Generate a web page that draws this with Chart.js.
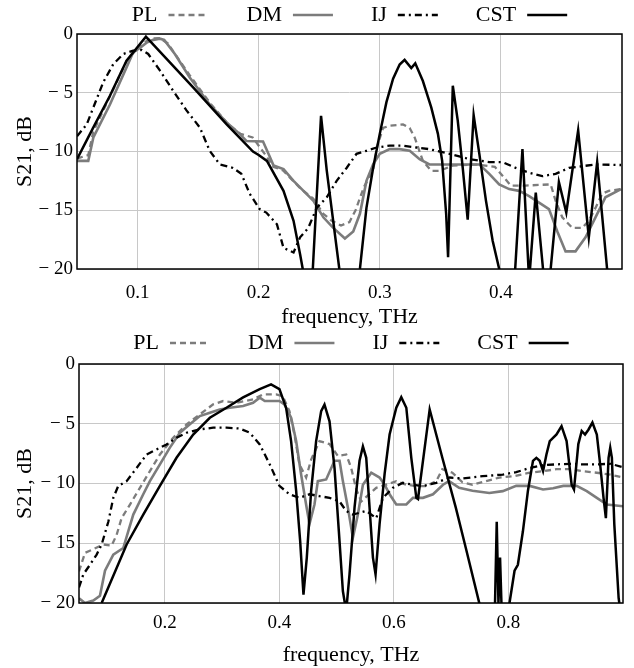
<!DOCTYPE html>
<html>
<head>
<meta charset="utf-8">
<script src="https://cdn.jsdelivr.net/npm/chart.js@4.4.1/dist/chart.umd.min.js"></script>
<style>
html, body { margin: 0; padding: 0; background: #fff; width: 634px; height: 668px; overflow: hidden; }
#chartHaut { position: absolute; left: 0; top: -34px; }
#chartBas { position: absolute; left: 0; top: 294px; }
</style>
</head>
<body>
<canvas id="chartHaut" width="634" height="364"></canvas>
<canvas id="chartBas" width="634" height="374"></canvas>
<script>
// ---- top chart (0.05 - 0.5 THz) ----
var topTicks = [0.1, 0.2, 0.3, 0.4];

var topFreqPL = [0.05, 0.0593, 0.0635, 0.0772, 0.0909, 0.1, 0.11, 0.118, 0.125, 0.143, 0.16, 0.175, 0.185, 0.195, 0.205, 0.212, 0.22, 0.235, 0.245, 0.2534, 0.2603, 0.268, 0.275, 0.28, 0.287, 0.2945, 0.298, 0.3027, 0.3082, 0.3192, 0.3247, 0.3288, 0.3356, 0.3425, 0.3493, 0.36, 0.38, 0.395, 0.4082, 0.42, 0.4411, 0.4452, 0.4507, 0.4589, 0.4671, 0.4726, 0.4781, 0.4836, 0.489, 0.4992];
var topPL = [-10.6, -10.3, -8.3, -5.3, -2.3, -1.2, -0.4, -0.35, -0.8, -3.5, -5.9, -7.7, -8.5, -8.8, -10.2, -11.3, -11.6, -13.2, -14.0, -15.3, -15.9, -16.3, -16.0, -15.0, -13.0, -11.6, -9.5, -8.0, -7.8, -7.7, -8.0, -8.8, -10.8, -11.65, -11.65, -11.2, -11.1, -11.3, -12.9, -12.9, -12.8, -14.2, -15.6, -16.5, -16.5, -15.9, -14.8, -13.6, -13.35, -13.2];

var topFreqDM = [0.05, 0.0593, 0.0635, 0.0772, 0.0909, 0.0964, 0.103, 0.108, 0.113, 0.1184, 0.122, 0.1308, 0.1431, 0.1596, 0.1733, 0.1843, 0.1898, 0.2036, 0.209, 0.2123, 0.2205, 0.2288, 0.237, 0.2452, 0.2534, 0.2616, 0.2712, 0.2781, 0.2836, 0.289, 0.2945, 0.3, 0.3082, 0.3164, 0.3247, 0.3329, 0.341, 0.3493, 0.3822, 0.3904, 0.3986, 0.4068, 0.4151, 0.4233, 0.4315, 0.4397, 0.4466, 0.4534, 0.4616, 0.4699, 0.4781, 0.4863, 0.4992];
var topDM = [-10.8, -10.8, -8.8, -6.0, -2.84, -1.56, -1.1, -0.7, -0.5, -0.4, -0.5, -1.7, -3.7, -6.0, -7.5, -8.5, -9.1, -9.15, -10.4, -11.2, -11.5, -12.5, -13.35, -14.2, -15.6, -16.5, -17.4, -16.8, -15.3, -12.5, -11.1, -10.2, -9.8, -9.8, -9.94, -10.65, -11.1, -11.1, -11.1, -11.9, -12.8, -13.2, -13.35, -13.8, -14.35, -14.9, -16.8, -18.5, -18.5, -17.3, -15.6, -13.9, -13.2];

var topFreqIJ = [0.05, 0.058, 0.0635, 0.0717, 0.08, 0.0882, 0.0964, 0.1033, 0.1088, 0.1184, 0.1294, 0.1404, 0.1514, 0.1596, 0.1679, 0.1788, 0.1857, 0.1926, 0.2008, 0.2063, 0.2151, 0.2205, 0.2288, 0.2342, 0.241, 0.2479, 0.2562, 0.2644, 0.2726, 0.2808, 0.289, 0.2973, 0.3082, 0.3192, 0.3301, 0.341, 0.3575, 0.374, 0.3904, 0.4014, 0.4123, 0.4233, 0.4342, 0.4452, 0.4562, 0.4671, 0.4781, 0.4992];
var topIJ = [-8.7, -7.7, -6.25, -4.1, -2.56, -1.7, -1.42, -1.36, -1.7, -3.1, -4.83, -6.5, -7.95, -9.94, -11.1, -11.4, -11.9, -13.6, -14.9, -15.2, -16.2, -18.2, -18.6, -17.3, -16.5, -14.8, -13.9, -12.5, -11.4, -10.2, -9.94, -9.66, -9.5, -9.5, -9.66, -9.8, -10.2, -10.65, -10.9, -10.9, -11.4, -11.8, -12.1, -11.9, -11.4, -11.25, -11.1, -11.15];

var topFreqCST = [0.05, 0.0635, 0.0772, 0.0909, 0.1, 0.1069, 0.1459, 0.1734, 0.1953, 0.2, 0.2068, 0.2205, 0.2288, 0.2342, 0.2364, 0.240, 0.2447, 0.2515, 0.2562, 0.2666, 0.275, 0.2836, 0.289, 0.2945, 0.3, 0.3055, 0.311, 0.3164, 0.3205, 0.326, 0.3293, 0.3356, 0.3425, 0.348, 0.3515, 0.3548, 0.3564, 0.3603, 0.3644, 0.3685, 0.3726, 0.3775, 0.3822, 0.3877, 0.3932, 0.3986, 0.405, 0.4118, 0.4178, 0.4233, 0.4288, 0.4348, 0.438, 0.4411, 0.4479, 0.454, 0.4638, 0.4726, 0.4795, 0.4877, 0.495];
var topCST = [-10.65, -7.95, -5.26, -2.27, -1.1, -0.23, -4.55, -7.67, -10.0, -10.3, -10.8, -13.35, -15.9, -18.75, -20, -24, -20, -6.96, -11.6, -20, -24, -20, -14.8, -11.4, -8.5, -5.8, -3.8, -2.6, -2.2, -2.9, -2.5, -4.0, -6.25, -8.5, -10.8, -15.3, -19.0, -4.4, -7.4, -11.4, -15.8, -6.9, -10.2, -14.2, -17.6, -20, -24, -20, -9.8, -21, -13.5, -20, -24, -20, -12.6, -15.2, -8.2, -17.3, -10.9, -20, -24];

// ---- bottom chart (0.05 - 1 THz) ----
var basTicks = [0.2, 0.4, 0.6, 0.8];

var basFreqPL = [0.05, 0.0605, 0.075, 0.0925, 0.107, 0.1157, 0.1244, 0.139, 0.1564, 0.1738, 0.1913, 0.2145, 0.2378, 0.261, 0.2843, 0.3017, 0.325, 0.354, 0.3715, 0.3831, 0.3942, 0.4058, 0.4175, 0.4262, 0.435, 0.4466, 0.4554, 0.47, 0.4875, 0.502, 0.5166, 0.5254, 0.5342, 0.5429, 0.5691, 0.5866, 0.6041, 0.6216, 0.6391, 0.6566, 0.674, 0.6845, 0.702, 0.7196, 0.7372, 0.7607, 0.7842, 0.8076, 0.837, 0.8604, 0.8839, 0.9073, 0.9308, 0.9543, 0.9777, 1.0];
var basPL = [-17.35, -15.8, -15.5, -15.1, -15.2, -14.3, -12.9, -11.76, -10.36, -8.97, -7.57, -6.17, -5.05, -4.22, -3.38, -3.1, -3.24, -2.96, -2.54, -2.54, -2.54, -2.7, -3.94, -5.9, -8.4, -9.5, -8.0, -6.45, -6.7, -7.7, -7.57, -8.7, -10.5, -11.5, -10.36, -10.1, -9.8, -10.1, -10.22, -10.22, -9.8, -8.8, -9.1, -9.9, -10.1, -9.8, -9.5, -9.4, -9.1, -8.97, -8.8, -8.8, -8.97, -9.1, -9.25, -9.5];

var basFreqDM = [0.05, 0.0605, 0.075, 0.0866, 0.0954, 0.1099, 0.1273, 0.136, 0.1448, 0.1622, 0.1738, 0.1913, 0.2087, 0.2262, 0.2436, 0.261, 0.2785, 0.2959, 0.3133, 0.3366, 0.354, 0.3656, 0.3744, 0.3854, 0.4, 0.4087, 0.4204, 0.4292, 0.4379, 0.4466, 0.4525, 0.4612, 0.4671, 0.4816, 0.4962, 0.505, 0.5108, 0.5195, 0.5283, 0.537, 0.5458, 0.5604, 0.5749, 0.5837, 0.5924, 0.6041, 0.6216, 0.6332, 0.6507, 0.6682, 0.6857, 0.6962, 0.7138, 0.7372, 0.7666, 0.79, 0.8135, 0.837, 0.8604, 0.878, 0.8956, 0.9191, 0.9367, 0.9543, 0.9718, 1.0];
var basDM = [-19.6, -20, -19.8, -19.4, -17.3, -15.95, -15.4, -14.0, -12.6, -10.9, -9.8, -8.4, -7.0, -5.75, -5.05, -4.36, -4.08, -3.8, -3.66, -3.52, -3.24, -2.82, -3.1, -3.1, -3.1, -3.38, -4.5, -6.45, -9.25, -11.76, -13.4, -11.76, -9.8, -9.66, -8.1, -8.1, -9.8, -12.0, -14.55, -12.6, -10.1, -9.1, -9.5, -10.1, -10.9, -11.76, -11.76, -11.2, -11.2, -10.9, -10.1, -9.8, -10.36, -10.6, -10.8, -10.64, -10.2, -10.2, -10.5, -10.4, -10.2, -10.2, -10.64, -11.2, -11.76, -11.9];

var basFreqIJ = [0.05, 0.0576, 0.0692, 0.0808, 0.0896, 0.1012, 0.1099, 0.1186, 0.1332, 0.1506, 0.168, 0.1855, 0.2029, 0.2203, 0.2378, 0.261, 0.2843, 0.3075, 0.3308, 0.3482, 0.3656, 0.3831, 0.4, 0.4175, 0.435, 0.4525, 0.47, 0.4875, 0.505, 0.5166, 0.5283, 0.5516, 0.5691, 0.5808, 0.5983, 0.6157, 0.6332, 0.6507, 0.674, 0.6974, 0.7196, 0.7548, 0.79, 0.8135, 0.837, 0.8604, 0.8839, 0.9073, 0.9308, 0.9543, 0.9777, 1.0];
var basIJ = [-18.7, -17.6, -16.8, -15.95, -15.1, -13.2, -11.2, -10.2, -9.8, -8.7, -7.57, -7.15, -6.73, -6.17, -5.75, -5.47, -5.33, -5.33, -5.4, -5.75, -6.73, -8.4, -10.2, -10.9, -11.2, -10.9, -11.06, -11.2, -11.5, -12.3, -12.6, -12.3, -12.9, -11.2, -10.36, -9.94, -10.1, -10.22, -9.94, -9.5, -9.58, -9.39, -9.25, -9.05, -8.7, -8.46, -8.4, -8.35, -8.4, -8.4, -8.35, -8.63];

var basFreqCST = [0.0896, 0.1332, 0.1622, 0.1913, 0.2203, 0.2494, 0.2785, 0.3075, 0.3366, 0.3656, 0.3854, 0.4, 0.4117, 0.4204, 0.4292, 0.4362, 0.442, 0.4478, 0.4554, 0.4641, 0.4729, 0.4787, 0.4875, 0.4962, 0.5038, 0.5108, 0.5166, 0.5224, 0.5312, 0.5399, 0.5458, 0.5516, 0.5574, 0.5633, 0.5679, 0.5749, 0.5837, 0.5924, 0.6041, 0.6128, 0.6216, 0.6303, 0.6391, 0.642, 0.6624, 0.6845, 0.7079, 0.7255, 0.749, 0.763, 0.7765, 0.7795, 0.7825, 0.7853, 0.7877, 0.795, 0.8018, 0.8106, 0.8164, 0.8252, 0.834, 0.8428, 0.8487, 0.8545, 0.8604, 0.8663, 0.8721, 0.8839, 0.8927, 0.9015, 0.9103, 0.9144, 0.922, 0.9279, 0.9337, 0.9396, 0.9466, 0.9543, 0.9601, 0.966, 0.9701, 0.9748, 0.9777, 0.9806, 0.9848, 0.9924, 0.9965, 1.0];
var basCST = [-20, -15.1, -12.6, -10.2, -7.85, -5.9, -4.5, -3.66, -2.8, -2.1, -1.7, -2.1, -3.66, -6.45, -10.6, -14.8, -19.3, -16.2, -10.6, -6.45, -3.94, -3.4, -4.8, -8.7, -14.0, -19.0, -20.7, -17.6, -12.0, -8.1, -6.9, -7.85, -12.0, -16.2, -17.6, -13.4, -9.2, -5.9, -3.66, -2.77, -3.66, -7.85, -11.2, -11.3, -3.8, -7.85, -12.0, -15.4, -20, -24, -20, -13.2, -20, -16.2, -20, -24, -20, -17.3, -16.8, -14.0, -10.6, -8.1, -7.85, -8.1, -8.97, -7.57, -6.45, -5.9, -5.2, -6.45, -10.1, -10.5, -6.7, -5.6, -5.9, -5.5, -4.9, -5.9, -8.4, -11.2, -12.9, -7.85, -7.0, -7.85, -13.4, -19.6, -21, -24];

var police = 'Liberation Serif';
var gris = '#7c7c7c';

function points(xs, ys) {
    return xs.map(function (x, i) { return { x: x, y: ys[i] }; });
}

// box around the plot area
var cadre = {
    id: 'cadre',
    afterDatasetsDraw: function (chart) {
        var a = chart.chartArea;
        var ctx = chart.ctx;
        ctx.save();
        ctx.strokeStyle = '#000';
        ctx.lineWidth = 1.5;
        ctx.strokeRect(a.left, a.top, a.right - a.left, a.bottom - a.top);
        ctx.restore();
    }
};

// legend samples: take dash and width from the dataset line, not from the point
function etiquettes(chart) {
    var items = Chart.defaults.plugins.legend.labels.generateLabels(chart);
    items.forEach(function (it) {
        var ds = chart.data.datasets[it.datasetIndex];
        it.lineDash = ds.borderDash || [];
        it.lineWidth = ds.borderWidth;
        it.strokeStyle = ds.borderColor;
        it.pointStyle = 'line';
    });
    return items;
}

function dessiner(id, series, xMax, xTicks, largeurY, hauteurX, margeDroite, padTicksX, hauteurLegende) {
    // CST first so it is drawn on top; rtl legend puts it at the right end
    var datasets = [
        { label: 'CST', data: points(series.fCST, series.CST), borderColor: '#000', borderWidth: 2.5 },
        { label: 'IJ', data: points(series.fIJ, series.IJ), borderColor: '#000', borderWidth: 2.3, borderDash: [7, 4, 2, 4] },
        { label: 'DM', data: points(series.fDM, series.DM), borderColor: gris, borderWidth: 2.6 },
        { label: 'PL', data: points(series.fPL, series.PL), borderColor: gris, borderWidth: 2.3, borderDash: [6, 4] }
    ];
    datasets.forEach(function (d) {
        d.pointRadius = 0;
        d.fill = false;
        d.tension = 0;
        d.clip = 0;
        d.backgroundColor = d.borderColor;
    });

    return new Chart(document.getElementById(id), {
        type: 'line',
        data: { datasets: datasets },
        plugins: [cadre],
        options: {
            responsive: false,
            animation: false,
            devicePixelRatio: 1,
            layout: { padding: { left: 0, right: margeDroite, top: 0, bottom: 0 } },
            plugins: {
                tooltip: { enabled: false },
                legend: {
                    position: 'top',
                    fullSize: false,
                    rtl: true,
                    maxHeight: hauteurLegende,
                    labels: {
                        usePointStyle: true,
                        pointStyle: 'line',
                        pointStyleWidth: 40,
                        padding: 38,
                        color: '#000',
                        font: { family: police, size: 22 },
                        generateLabels: etiquettes
                    }
                }
            },
            scales: {
                x: {
                    type: 'linear',
                    min: 0.05,
                    max: xMax,
                    afterBuildTicks: function (scale) {
                        scale.ticks = xTicks.map(function (v) { return { value: v }; });
                    },
                    afterFit: function (scale) { scale.height = hauteurX; },
                    grid: { color: '#c8c8c8', lineWidth: 1, drawTicks: false },
                    border: { display: false },
                    ticks: {
                        color: '#000',
                        padding: padTicksX,
                        maxRotation: 0,
                        autoSkip: false,
                        font: { family: police, size: 19 },
                        callback: function (v) { return v.toFixed(1); }
                    },
                    title: {
                        display: true,
                        text: 'frequency, THz',
                        color: '#000',
                        padding: 0,
                        font: { family: police, size: 22 }
                    }
                },
                y: {
                    min: -20,
                    max: 0,
                    afterFit: function (scale) { scale.width = largeurY; },
                    grid: { color: '#c8c8c8', lineWidth: 1, drawTicks: false },
                    border: { display: false },
                    ticks: {
                        stepSize: 5,
                        color: '#000',
                        padding: 4,
                        font: { family: police, size: 19 },
                        callback: function (v) { return v === 0 ? '0' : '\u2212 ' + Math.abs(v); }
                    },
                    title: {
                        display: true,
                        text: 'S21, dB',
                        color: '#000',
                        padding: { top: 12, bottom: 0 },
                        font: { family: police, size: 22 }
                    }
                }
            }
        }
    });
}

dessiner('chartHaut', {
    fPL: topFreqPL, PL: topPL, fDM: topFreqDM, DM: topDM,
    fIJ: topFreqIJ, IJ: topIJ, fCST: topFreqCST, CST: topCST
}, 0.5, topTicks, 77, 61, 12, 13, 68);

dessiner('chartBas', {
    fPL: basFreqPL, PL: basPL, fDM: basFreqDM, DM: basDM,
    fIJ: basFreqIJ, IJ: basIJ, fCST: basFreqCST, CST: basCST
}, 1.0, basTicks, 79, 65, 11, 9, 70);
</script>
</body>
</html>
